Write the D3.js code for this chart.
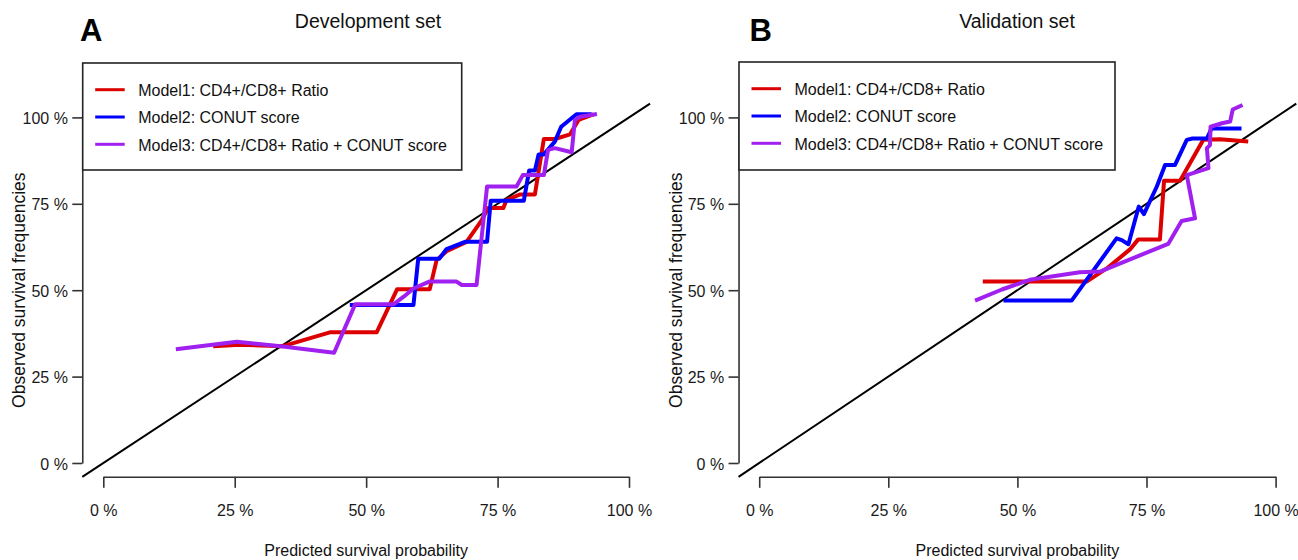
<!DOCTYPE html>
<html>
<head>
<meta charset="utf-8">
<script src="https://cdn.jsdelivr.net/npm/d3@7"></script>
<style>
  html, body { margin: 0; padding: 0; background: #fff; }
  svg { display: block; font-family: "Liberation Sans", Arial, Helvetica, sans-serif; }
</style>
</head>
<body>
<svg id="chart" width="1298" height="560"></svg>
<script>
// ---------------- DATA ----------------
const tickValues = [0, 0.25, 0.5, 0.75, 1];
const tickLabels = ["0 %", "25 %", "50 %", "75 %", "100 %"];
const seriesNames = ["Model1: CD4+/CD8+ Ratio", "Model2: CONUT score", "Model3: CD4+/CD8+ Ratio + CONUT score"];
const seriesColors = ["#DD0000", "#0000FF", "#A020F0"];

// Development set (panel A): [predicted, observed]
const devModel1 = [[0.209,0.338],[0.26,0.342],[0.342,0.338],[0.431,0.378],[0.520,0.378],[0.559,0.503],[0.621,0.503],
  [0.634,0.587],[0.653,0.613],[0.691,0.640],[0.72,0.703],[0.732,0.738],[0.761,0.738],[0.767,0.761],[0.793,0.777],
  [0.821,0.777],[0.838,0.9375],[0.859,0.9375],[0.888,0.951],[0.904,0.9925],[0.932,1.009]];
const devModel2 = [[0.469,0.457],[0.590,0.457],[0.599,0.591],[0.639,0.591],[0.653,0.619],[0.688,0.640],[0.730,0.640],
  [0.737,0.759],[0.800,0.759],[0.810,0.846],[0.821,0.846],[0.828,0.893],[0.838,0.893],[0.859,0.930],[0.871,0.973],
  [0.900,1.009],[0.929,1.009]];
const devModel3 = [[0.138,0.329],[0.254,0.351],[0.342,0.337],[0.439,0.319],[0.479,0.459],[0.552,0.459],[0.572,0.482],
  [0.590,0.505],[0.620,0.525],[0.672,0.525],[0.682,0.515],[0.710,0.515],[0.730,0.80],[0.786,0.80],[0.798,0.833],
  [0.838,0.833],[0.846,0.906],[0.859,0.911],[0.891,0.899],[0.897,0.992],[0.907,1.002],[0.939,1.01]];

// Validation set (panel B)
const valModel1 = [[0.433,0.525],[0.634,0.525],[0.673,0.563],[0.718,0.618],[0.734,0.647],[0.776,0.647],[0.784,0.817],
  [0.815,0.817],[0.86,0.935],[0.892,0.937],[0.947,0.930]];
const valModel2 = [[0.473,0.470],[0.605,0.470],[0.692,0.650],[0.702,0.645],[0.715,0.633],[0.735,0.742],[0.745,0.720],
  [0.770,0.80],[0.786,0.862],[0.805,0.862],[0.828,0.935],[0.839,0.939],[0.867,0.939],[0.876,0.968],[0.934,0.968]];
const valModel3 = [[0.418,0.470],[0.47,0.502],[0.524,0.530],[0.621,0.552],[0.660,0.554],[0.792,0.634],[0.818,0.700],
  [0.844,0.708],[0.828,0.833],[0.870,0.853],[0.867,0.911],[0.873,0.920],[0.874,0.973],[0.896,0.983],[0.912,0.988],
  [0.917,1.023],[0.936,1.036]];

const panels = [
  { letter: "A", title: "Development set", series: [devModel1, devModel2, devModel3],
    xRange: [103.3, 629], titleX: 368, letterX: 80, legend: { x: 82.7, y: 63, w: 379, h: 107 } },
  { letter: "B", title: "Validation set", series: [valModel1, valModel2, valModel3],
    xRange: [759.2, 1275.6], titleX: 1017, letterX: 749.6, legend: { x: 739, y: 62, w: 376, h: 108 } }
];

// ---------------- DRAW ----------------
const svg = d3.select("#chart");
const axisColor = "#333";
const y = d3.scaleLinear().domain([0, 1]).range([463, 117.4]);

panels.forEach(p => {
  const x = d3.scaleLinear().domain([0, 1]).range(p.xRange);
  const g = svg.append("g");
  const xLeft = x(-0.04), yBottom = y(-0.04);

  // panel letter and title
  g.append("text").attr("x", p.letterX).attr("y", 40.8)
    .attr("font-size", 31).attr("font-weight", "bold").attr("fill", "#000").text(p.letter);
  g.append("text").attr("x", p.titleX).attr("y", 27.7).attr("text-anchor", "middle")
    .attr("font-size", 19.5).attr("fill", "#111").text(p.title);

  // x axis
  const xa = g.append("g").attr("transform", `translate(0,${yBottom})`)
    .call(d3.axisBottom(x).tickValues(tickValues).tickFormat((d, i) => tickLabels[i])
      .tickSize(11).tickSizeOuter(0).tickPadding(16.5));
  // y axis
  const ya = g.append("g").attr("transform", `translate(${xLeft},0)`)
    .call(d3.axisLeft(y).tickValues(tickValues).tickFormat((d, i) => tickLabels[i])
      .tickSize(10).tickSizeOuter(0).tickPadding(4.4));
  [xa, ya].forEach(a => {
    a.select(".domain").attr("stroke", axisColor).attr("stroke-width", 1.6);
    a.selectAll(".tick line").attr("stroke", axisColor).attr("stroke-width", 1.6);
    a.selectAll(".tick text").attr("fill", "#1a1a1a").attr("font-size", 16)
      .attr("font-family", "Liberation Sans, Arial, sans-serif");
  });
  ya.selectAll(".tick text").attr("dy", "0.38em");

  // axis titles
  g.append("text").attr("x", (x(-0.04) + x(1.04)) / 2).attr("y", 555.5).attr("text-anchor", "middle")
    .attr("font-size", 16).attr("fill", "#111").text("Predicted survival probability");
  g.append("text").attr("transform", `translate(${xLeft - 57},${(y(0) + y(1)) / 2}) rotate(-90)`)
    .attr("text-anchor", "middle").attr("font-size", 17.5).attr("fill", "#111")
    .text("Observed survival frequencies");

  // diagonal reference line
  g.append("line")
    .attr("x1", x(-0.04)).attr("y1", y(-0.04)).attr("x2", x(1.04)).attr("y2", y(1.04))
    .attr("stroke", "#000").attr("stroke-width", 2);

  // calibration curves
  const line = d3.line().x(d => x(d[0])).y(d => y(d[1]));
  p.series.forEach((s, i) => {
    g.append("path").attr("d", line(s)).attr("fill", "none")
      .attr("stroke", seriesColors[i]).attr("stroke-width", 4)
      .attr("stroke-linejoin", "round").attr("stroke-linecap", "butt");
  });

  // legend
  const L = p.legend;
  const lg = g.append("g").attr("transform", `translate(${L.x},${L.y})`);
  lg.append("rect").attr("width", L.w).attr("height", L.h)
    .attr("fill", "#fff").attr("stroke", "#222").attr("stroke-width", 1.6);
  seriesNames.forEach((name, i) => {
    const by = 33 + i * 27.3;
    lg.append("line").attr("x1", 12.5).attr("x2", 42).attr("y1", by - 6.3).attr("y2", by - 6.3)
      .attr("stroke", seriesColors[i]).attr("stroke-width", 3);
    lg.append("text").attr("x", 55.5).attr("y", by).attr("font-size", 16).attr("fill", "#111").text(name);
  });
});
</script>
</body>
</html>
